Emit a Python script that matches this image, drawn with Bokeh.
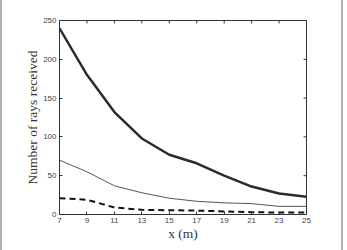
import math
from bokeh.plotting import figure
from bokeh.models import FixedTicker, Range1d
from bokeh.embed import file_html
from bokeh.resources import INLINE

x_m = [7, 9, 11, 13, 15, 17, 19, 21, 23, 25]
rays_thick = [240, 180, 132, 98, 77, 66, 50, 36, 27, 23]
rays_thin = [70, 55, 37, 28, 21, 17, 15, 14, 10.5, 10.5]
rays_dashed = [21, 19, 9, 6, 5.5, 5, 4, 3, 2.5, 2.5]
x_ticks = [7, 9, 11, 13, 15, 17, 19, 21, 23, 25]
y_ticks = [0, 50, 100, 150, 200, 250]
x_min, x_max = 7, 25
y_min, y_max = 0, 250

p = figure(width=343, height=250, output_backend="svg", toolbar_location=None,
           x_range=Range1d(x_min, x_max), y_range=Range1d(y_min, y_max),
           min_border_left=57, min_border_right=39, min_border_top=20, min_border_bottom=36)
p.styles = {"border-left": "2px solid #b0b0b0", "border-right": "2px solid #b0b0b0"}
p.grid.visible = False
p.outline_line_color = "#333333"
p.outline_line_width = 1
p.background_fill_color = "white"
p.border_fill_color = "white"

p.line(x_m, rays_thick, line_color="#2b2b2b", line_width=2.5)
p.line(x_m, rays_thin, line_color="#555555", line_width=1)
p.line(x_m, rays_dashed, line_color="#111111", line_width=2, line_dash="6 4")

# mirrored inward ticks on top and right (half of each dash is clipped by the frame)
p.scatter(x=x_ticks, y=[y_max] * len(x_ticks), marker="dash", angle=math.pi / 2,
          size=6, line_color="#333333", line_width=1)
p.scatter(x=[x_max] * len(y_ticks), y=y_ticks, marker="dash",
          size=6, line_color="#333333", line_width=1)

for ax in (p.xaxis[0], p.yaxis[0]):
    ax.axis_line_color = None
    ax.major_tick_in = 3
    ax.major_tick_out = 0
    ax.minor_tick_line_color = None
    ax.major_tick_line_color = "#333333"
    ax.major_label_text_font = "Liberation Sans"
    ax.major_label_text_font_size = "8px"
    ax.major_label_text_color = "#444444"
    ax.major_label_standoff = 3
    ax.axis_label_text_font = "Liberation Serif"
    ax.axis_label_text_font_size = "13.5px"
    ax.axis_label_text_font_style = "normal"
    ax.axis_label_text_color = "#333333"

p.xaxis.ticker = FixedTicker(ticks=x_ticks)
p.yaxis.ticker = FixedTicker(ticks=y_ticks)
p.xaxis.axis_label = "x (m)"
p.yaxis.axis_label = "Number of rays received"
p.xaxis.axis_label_standoff = 0
p.yaxis.axis_label_standoff = 0

open("out.html", "w").write(file_html(p, INLINE))
